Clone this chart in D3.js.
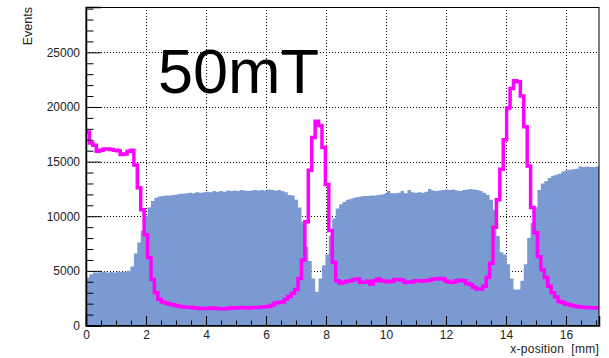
<!DOCTYPE html>
<html>
<head>
<meta charset="utf-8">
<script src="https://cdn.jsdelivr.net/npm/d3@7"></script>
<style>
  html, body { margin: 0; padding: 0; background: #fff; }
  svg { display: block; font-family: "Liberation Sans", Arial, Helvetica, sans-serif; }
</style>
</head>
<body>
<svg id="chart" width="609" height="358"></svg>
<script>
// Histogram range along x (mm) and number of bins
const xRange = [0, 17.1];
const nBins = 150;

// Axis tick values
const xMajorTicks = [0, 2, 4, 6, 8, 10, 12, 14, 16];
const yMajorTicks = [0, 5000, 10000, 15000, 20000, 25000];
const yMax = 29150;

// Filled histogram: counts per bin
const countsFilled = [
  4400, 4700, 4850, 4850, 4900, 4950, 4850, 4900, 4850, 4950,
  4900, 4950, 5000, 5400, 6600, 7600, 8700, 10000, 10800, 11400,
  11700, 11800, 11850, 11900, 11900, 11950, 12000, 12050, 12050, 12100,
  12150, 12100, 12200, 12150, 12200, 12250, 12200, 12300, 12250, 12300,
  12250, 12350, 12300, 12350, 12300, 12400, 12350, 12300, 12350, 12400,
  12350, 12400, 12350, 12450, 12400, 12350, 12400, 12300, 12200, 11950,
  11900, 11500, 10800, 9500, 7200, 5900, 4300, 3100, 4300, 5500,
  6500, 8200, 9800, 10700, 11100, 11300, 11500, 11600, 11700, 11750,
  11800, 11850, 11850, 11900, 11900, 11950, 12000, 12050, 12300, 12100,
  12100, 12150, 12300, 12100, 12400, 12200, 12150, 12200, 12150, 12250,
  12500, 12350, 12300, 12350, 12400, 12450, 12400, 12450, 12350, 12300,
  12400, 12450, 12500, 12450, 12400, 12300, 12150, 11950, 11500, 10600,
  8200, 6700, 6500, 5600, 4300, 3300, 3300, 4100, 5600, 8000,
  9400, 10800, 12400, 13000, 13200, 13500, 13700, 13800, 13900, 14100,
  14200, 14250, 14300, 14350, 14550, 14500, 14550, 14500, 14500, 14550
];

// Line histogram (50 mT): counts per bin
const counts50mT = [
  17700, 16700, 16500, 15950, 16050, 16150, 16150, 16100, 16050, 16000,
  15650, 15700, 15950, 16050, 14700, 12600, 10600, 8300, 6200, 4200,
  3000, 2400, 2150, 2050, 1950, 1900, 1800, 1750, 1700, 1680,
  1670, 1600, 1600, 1560, 1550, 1560, 1580, 1600, 1550, 1530,
  1530, 1550, 1620, 1600, 1620, 1640, 1620, 1600, 1620, 1650,
  1650, 1700, 1720, 1750, 1850, 2050, 2100, 2150, 2400, 2650,
  2950, 3300, 4300, 6000, 9500, 14200, 17200, 18700, 18300, 16300,
  12900, 8700, 5800, 4100, 3900, 3950, 4050, 4100, 4200, 4250,
  3950, 3950, 4050, 3800, 4100, 4250, 4100, 4050, 4000, 4050,
  4200, 4200, 4150, 3950, 3950, 4000, 4100, 4100, 4050, 4100,
  4150, 4250, 4250, 4300, 4250, 4050, 3950, 3950, 4100, 4150,
  4100, 3850, 3750, 3500, 3350, 3350, 3600, 4400, 5700, 9000,
  11500, 14300, 17000, 19900, 21700, 22400, 22300, 21000, 18200, 14600,
  10800, 8500, 6300, 5100, 4400, 3600, 3000, 2600, 2200, 2100,
  1950, 1900, 1800, 1750, 1700, 1680, 1650, 1620, 1620, 1620
];

const plot = { left: 86, right: 599, top: 7, bottom: 325.5 };

const svg = d3.select("#chart");
const x = d3.scaleLinear().domain(xRange).range([plot.left, plot.right]);
const y = d3.scaleLinear().domain([0, yMax]).range([plot.bottom, plot.top]);

const binWidth = (xRange[1] - xRange[0]) / nBins;
const stepPoints = vals => {
  const pts = vals.map((v, i) => [xRange[0] + i * binWidth, v]);
  pts.push([xRange[1], vals[vals.length - 1]]);
  return pts;
};

// Dotted grid at major ticks
const grid = svg.append("g").attr("stroke", "#000").attr("stroke-width", 1)
  .attr("stroke-dasharray", "1,2");
xMajorTicks.filter(t => t > xRange[0]).forEach(t => {
  grid.append("line").attr("x1", Math.round(x(t)) + 0.5).attr("x2", Math.round(x(t)) + 0.5)
    .attr("y1", plot.top).attr("y2", plot.bottom);
});
yMajorTicks.filter(t => t > 0).forEach(t => {
  grid.append("line").attr("y1", Math.round(y(t)) + 0.5).attr("y2", Math.round(y(t)) + 0.5)
    .attr("x1", plot.left).attr("x2", plot.right);
});

// Filled histogram
const area = d3.area().curve(d3.curveStepAfter)
  .x(d => x(d[0])).y0(y(0)).y1(d => y(d[1]));
svg.append("path").datum(stepPoints(countsFilled))
  .attr("d", area).attr("fill", "rgb(122,154,209)").attr("stroke", "none");

// 50 mT line histogram
const line = d3.line().curve(d3.curveStepAfter)
  .x(d => x(d[0])).y(d => y(d[1]));
svg.append("path").datum(stepPoints(counts50mT))
  .attr("d", line).attr("fill", "none").attr("stroke", "#ff00ff")
  .attr("stroke-width", 3.5).attr("stroke-linejoin", "miter");

// Frame
svg.append("rect").attr("x", plot.left).attr("y", plot.top + 0.5)
  .attr("width", plot.right - plot.left).attr("height", plot.bottom - plot.top - 0.5)
  .attr("fill", "none").attr("stroke", "#000").attr("stroke-width", 1);

// Y axis: major and minor ticks pointing into the frame
const yMinor = d3.range(0, yMax + 1, 1000).filter(v => v % 5000 !== 0);
svg.append("g").attr("transform", `translate(${plot.left},0)`)
  .call(d3.axisLeft(y).tickValues(yMinor).tickSize(-7.5).tickFormat(""))
  .call(g => g.select(".domain").remove());
const yAx = svg.append("g").attr("transform", `translate(${plot.left},0)`)
  .call(d3.axisLeft(y).tickValues(yMajorTicks).tickSize(-15).tickPadding(6).tickFormat(d3.format("d")));
yAx.select(".domain").attr("stroke-width", 1.5);
yAx.selectAll("text").attr("font-size", 12).attr("fill", "#222")
  .attr("font-family", "Liberation Sans, Arial, sans-serif");

// X axis: major and minor ticks pointing into the frame
const xMinor = d3.range(0.5, xRange[1], 0.5).filter(v => v % 2 !== 0);
svg.append("g").attr("transform", `translate(0,${plot.bottom})`)
  .call(d3.axisBottom(x).tickValues(xMinor).tickSize(-5).tickFormat(""))
  .call(g => g.select(".domain").remove());
const xAx = svg.append("g").attr("transform", `translate(0,${plot.bottom})`)
  .call(d3.axisBottom(x).tickValues(xMajorTicks).tickSize(-9.5).tickPadding(5).tickFormat(d3.format("d")));
xAx.select(".domain").attr("stroke-width", 1.5);
xAx.selectAll("text").attr("font-size", 12).attr("fill", "#222")
  .attr("font-family", "Liberation Sans, Arial, sans-serif");

// Axis titles
svg.append("text").attr("x", plot.right).attr("y", 353)
  .attr("text-anchor", "end").attr("font-size", 12).attr("fill", "#222")
  .attr("xml:space", "preserve").style("white-space", "pre")
  .attr("letter-spacing", 0.25)
  .text("x-position  [mm]");
svg.append("text").attr("transform", `translate(31.5,${plot.top}) rotate(-90)`)
  .attr("text-anchor", "end").attr("font-size", 12.5).attr("fill", "#222")
  .text("Events");

// Field label
svg.append("text").attr("x", 158).attr("y", 93)
  .attr("font-size", 63).attr("fill", "#000")
  .text("50mT");
</script>
</body>
</html>
